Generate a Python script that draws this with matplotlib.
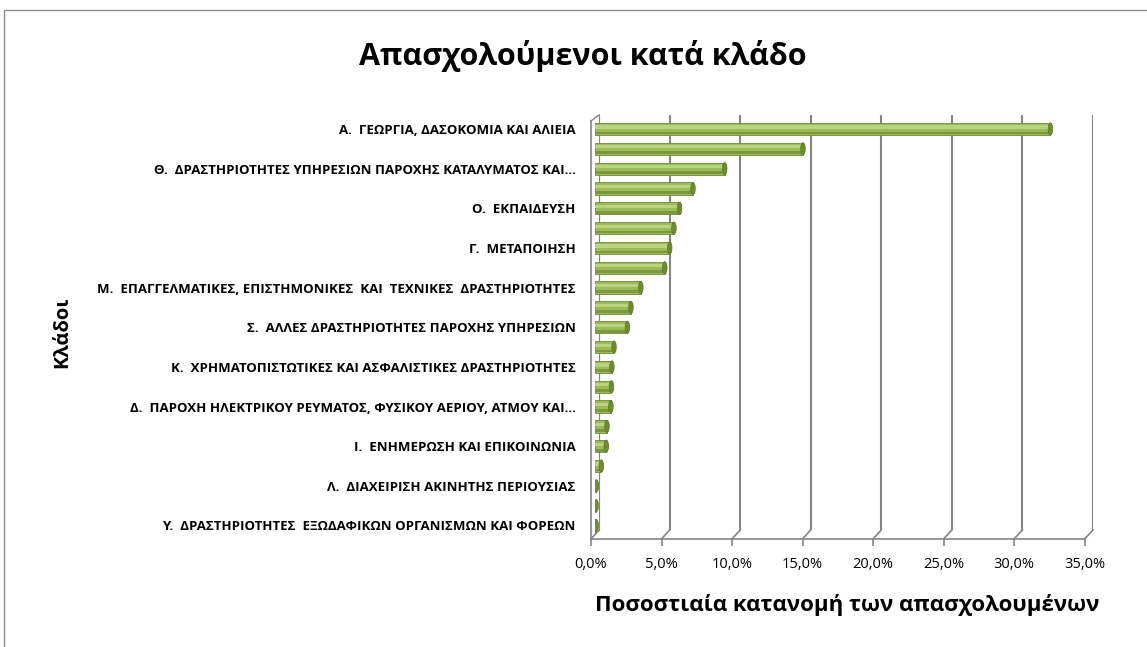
import matplotlib.pyplot as plt
from matplotlib.patches import Ellipse, Rectangle
from matplotlib.lines import Line2D

# data (top bar first)
categories = [
    'Α.  ΓΕΩΡΓΙΑ, ΔΑΣΟΚΟΜΙΑ ΚΑΙ ΑΛΙΕΙΑ',
    'Ζ.  ΧΟΝΔΡΙΚΟ ΚΑΙ ΛΙΑΝΙΚΟ ΕΜΠΟΡΙΟ',
    'Θ.  ΔΡΑΣΤΗΡΙΟΤΗΤΕΣ ΥΠΗΡΕΣΙΩΝ ΠΑΡΟΧΗΣ ΚΑΤΑΛΥΜΑΤΟΣ ΚΑΙ...',
    'ΣΤ.  ΚΑΤΑΣΚΕΥΕΣ',
    'Ο.  ΕΚΠΑΙΔΕΥΣΗ',
    'Ξ.  ΔΗΜΟΣΙΑ ΔΙΟΙΚΗΣΗ ΚΑΙ ΑΜΥΝΑ',
    'Γ.  ΜΕΤΑΠΟΙΗΣΗ',
    'Π.  ΑΝΘΡΩΠΙΝΗ ΥΓΕΙΑ ΚΑΙ ΚΟΙΝΩΝΙΚΗ ΜΕΡΙΜΝΑ',
    'Μ.  ΕΠΑΓΓΕΛΜΑΤΙΚΕΣ, ΕΠΙΣΤΗΜΟΝΙΚΕΣ  ΚΑΙ  ΤΕΧΝΙΚΕΣ  ΔΡΑΣΤΗΡΙΟΤΗΤΕΣ',
    'Η.  ΜΕΤΑΦΟΡΑ ΚΑΙ ΑΠΟΘΗΚΕΥΣΗ',
    'Σ.  ΑΛΛΕΣ ΔΡΑΣΤΗΡΙΟΤΗΤΕΣ ΠΑΡΟΧΗΣ ΥΠΗΡΕΣΙΩΝ',
    'Ν.  ΔΙΟΙΚΗΤΙΚΕΣ ΚΑΙ ΥΠΟΣΤΗΡΙΚΤΙΚΕΣ ΔΡΑΣΤΗΡΙΟΤΗΤΕΣ',
    'Κ.  ΧΡΗΜΑΤΟΠΙΣΤΩΤΙΚΕΣ ΚΑΙ ΑΣΦΑΛΙΣΤΙΚΕΣ ΔΡΑΣΤΗΡΙΟΤΗΤΕΣ',
    'Ρ.  ΤΕΧΝΕΣ, ΔΙΑΣΚΕΔΑΣΗ ΚΑΙ ΨΥΧΑΓΩΓΙΑ',
    'Δ.  ΠΑΡΟΧΗ ΗΛΕΚΤΡΙΚΟΥ ΡΕΥΜΑΤΟΣ, ΦΥΣΙΚΟΥ ΑΕΡΙΟΥ, ΑΤΜΟΥ ΚΑΙ...',
    'Τ.  ΔΡΑΣΤΗΡΙΟΤΗΤΕΣ ΝΟΙΚΟΚΥΡΙΩΝ',
    'Ι.  ΕΝΗΜΕΡΩΣΗ ΚΑΙ ΕΠΙΚΟΙΝΩΝΙΑ',
    'Ε.  ΠΑΡΟΧΗ ΝΕΡΟΥ, ΕΠΕΞΕΡΓΑΣΙΑ ΛΥΜΑΤΩΝ',
    'Λ.  ΔΙΑΧΕΙΡΙΣΗ ΑΚΙΝΗΤΗΣ ΠΕΡΙΟΥΣΙΑΣ',
    'Β.  ΟΡΥΧΕΙΑ ΚΑΙ ΛΑΤΟΜΕΙΑ',
    'Υ.  ΔΡΑΣΤΗΡΙΟΤΗΤΕΣ  ΕΞΩΔΑΦΙΚΩΝ ΟΡΓΑΝΙΣΜΩΝ ΚΑΙ ΦΟΡΕΩΝ',
]
shares = [32.3, 14.75, 9.2, 6.95, 6.0, 5.6, 5.3, 4.95, 3.25, 2.55, 2.3,
          1.35, 1.2, 1.17, 1.13, 0.85, 0.8, 0.45, 0.1, 0.08, 0.08]
xticks = [0, 5, 10, 15, 20, 25, 30, 35]

plt.rcParams['font.family'] = ['Open Sans', 'DejaVu Sans']

W, H = 1147, 647
fig = plt.figure(figsize=(W / 100, H / 100), dpi=100)

def box(x0, y0, x1, y1):
    # pixel box (top-left origin) -> figure fraction
    return [x0 / W, 1 - y1 / H, (x1 - x0) / W, (y1 - y0) / H]

grid_c = '#858585'

# back wall with gridlines
ax_back = fig.add_axes(box(599, 115, 1093, 530))
ax_back.set_xlim(0, 35)
ax_back.set_ylim(0, 1)
ax_back.set_xticks(xticks)
ax_back.set_yticks([])
ax_back.tick_params(length=0, labelbottom=False)
ax_back.grid(axis='x', color=grid_c, lw=1.5)
for s in ['top', 'right', 'bottom']:
    ax_back.spines[s].set_visible(False)
ax_back.spines['left'].set_color(grid_c)
ax_back.patch.set_alpha(0)

# front edge of floor = the value axis
ax_front = fig.add_axes(box(591, 121, 1084.5, 539))
ax_front.set_xlim(0, 35)
ax_front.set_ylim(0, 1)
ax_front.set_xticks(xticks)
ax_front.set_xticklabels([f'{t:.1f}%'.replace('.', ',') for t in xticks], fontsize=10.5)
ax_front.set_yticks([])
ax_front.tick_params(axis='x', length=5, width=1.2, color=grid_c, pad=8)
for s in ['top', 'right']:
    ax_front.spines[s].set_visible(False)
for s in ['left', 'bottom']:
    ax_front.spines[s].set_color(grid_c)
    ax_front.spines[s].set_linewidth(1.2)
ax_front.patch.set_alpha(0)

# floor diagonals joining front ticks and back gridlines
inv = fig.transFigure.inverted()
for t in xticks:
    p1 = inv.transform(ax_front.transData.transform((t, 0)))
    p2 = inv.transform(ax_back.transData.transform((t, 0)))
    fig.add_artist(Line2D([p1[0], p2[0]], [p1[1], p2[1]], color=grid_c, lw=1.2,
                          transform=fig.transFigure))
p1 = inv.transform(ax_front.transData.transform((0, 1)))
p2 = inv.transform(ax_back.transData.transform((0, 1)))
fig.add_artist(Line2D([p1[0], p2[0]], [p1[1], p2[1]], color=grid_c, lw=1.0,
                      transform=fig.transFigure))

# cylinder bars
ax = fig.add_axes(box(595, 119.1, 1088.5, 535.4))
ax.set_xlim(0, 35)
ax.set_ylim(len(shares) - 0.5, -0.5)
ax.patch.set_alpha(0)
for s in ax.spines.values():
    s.set_visible(False)
ax.set_xticks([])
y = list(range(len(shares)))
ax.barh(y, shares, height=0.62, color='#9bbb59', edgecolor='#6e8b33', lw=0.6)
ax.barh([i - 0.1 for i in y], shares, height=0.16, color='#b8d47f', lw=0)
ax.barh([i + 0.2 for i in y], shares, height=0.14, color='#7b9840', lw=0)
for i, v in enumerate(shares):
    ax.add_patch(Ellipse((v, i), width=0.32, height=0.62, fc='#6f8c35',
                         ec='#5a7229', lw=0.5))
ax.set_yticks(y)
ax.set_yticklabels([c if i % 2 == 0 else '' for i, c in enumerate(categories)],
                   fontsize=9.5, fontweight='bold')
ax.tick_params(axis='y', length=0, pad=14)

# texts
fig.text(583 / W, 1 - 56 / H, 'Απασχολούμενοι κατά κλάδο', ha='center', va='center',
         fontsize=22, fontweight='bold')
fig.text(62 / W, 1 - 332 / H, 'Κλάδοι', ha='center', va='center', rotation=90,
         fontsize=14.5, fontweight='bold')
fig.text(847 / W, 1 - 605 / H, 'Ποσοστιαία κατανομή των απασχολουμένων',
         ha='center', va='center', fontsize=16, fontweight='bold')

# chart border
fig.add_artist(Rectangle((4 / W, -0.1), 1.2, 1 - 10 / H + 0.1, fill=False,
                         ec='#8c8c8c', lw=1, transform=fig.transFigure))

fig.savefig('out.png', dpi=100)
